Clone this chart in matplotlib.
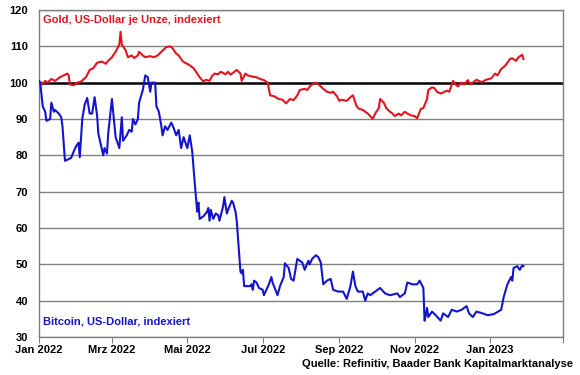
import matplotlib
matplotlib.use("Agg")
import matplotlib.pyplot as plt
import matplotlib.dates as mdates
import pandas as pd

plt.rcParams['font.family'] = ['Liberation Sans', 'DejaVu Sans']

gold_dates = ["2022-01-03","2022-01-04","2022-01-06","2022-01-08","2022-01-11","2022-01-14","2022-01-18","2022-01-21","2022-01-24","2022-01-25","2022-01-26","2022-01-29","2022-02-01","2022-02-04","2022-02-08","2022-02-11","2022-02-14","2022-02-17","2022-02-21","2022-02-24","2022-02-26","2022-03-01","2022-03-04","2022-03-07","2022-03-08","2022-03-09","2022-03-12","2022-03-14","2022-03-17","2022-03-19","2022-03-22","2022-03-23","2022-03-26","2022-03-28","2022-04-01","2022-04-04","2022-04-07","2022-04-10","2022-04-14","2022-04-17","2022-04-19","2022-04-22","2022-04-24","2022-04-27","2022-04-29","2022-05-02","2022-05-04","2022-05-06","2022-05-09","2022-05-11","2022-05-14","2022-05-16","2022-05-19","2022-05-21","2022-05-23","2022-05-26","2022-05-28","2022-06-01","2022-06-03","2022-06-05","2022-06-08","2022-06-10","2022-06-13","2022-06-14","2022-06-17","2022-06-19","2022-06-22","2022-06-26","2022-06-29","2022-07-02","2022-07-05","2022-07-07","2022-07-10","2022-07-14","2022-07-17","2022-07-20","2022-07-23","2022-07-26","2022-07-29","2022-07-31","2022-08-04","2022-08-06","2022-08-09","2022-08-11","2022-08-13","2022-08-16","2022-08-19","2022-08-22","2022-08-25","2022-08-27","2022-08-30","2022-09-01","2022-09-03","2022-09-07","2022-09-10","2022-09-12","2022-09-15","2022-09-17","2022-09-20","2022-09-24","2022-09-26","2022-09-28","2022-09-30","2022-10-03","2022-10-04","2022-10-07","2022-10-09","2022-10-12","2022-10-14","2022-10-16","2022-10-19","2022-10-21","2022-10-24","2022-10-26","2022-10-29","2022-11-01","2022-11-03","2022-11-06","2022-11-08","2022-11-11","2022-11-12","2022-11-15","2022-11-17","2022-11-19","2022-11-22","2022-11-24","2022-11-27","2022-11-29","2022-12-02","2022-12-04","2022-12-06","2022-12-09","2022-12-11","2022-12-14","2022-12-16","2022-12-19","2022-12-21","2022-12-24","2022-12-26","2022-12-28","2022-12-31","2023-01-02","2023-01-05","2023-01-07","2023-01-10","2023-01-12","2023-01-14","2023-01-17","2023-01-19","2023-01-22","2023-01-24","2023-01-27","2023-01-28"]
gold_values = [100,99.5,100.5,100,101,100.5,101.5,102,102.5,102,99.5,99.3,100,100.3,101.5,103.5,104,105.5,105.8,105.2,106,107,108.5,110.5,114,110.5,109,107,107.5,106.8,107.5,108.5,107.5,107,107.3,107,107.5,108.5,109.8,110,109.5,108,107.5,106,105.5,105,104.5,104,102.5,101.5,100.3,100.8,100.5,101.8,102.5,102.3,103,102.3,103,102.2,103,103.5,102.5,100.5,102.5,102,101.7,101.5,101,100.7,100,96.5,96.3,95.5,95.3,94.3,95.5,95.2,96.5,98,98.3,98,99.3,99.7,100,99.3,98.3,97.5,97.2,97.5,96.3,95,95.3,95,96,96.5,93.5,92.8,92.5,91.5,90.8,90,91.5,93,95.5,94.5,93,92,91.5,90.8,91.5,91,92,91.5,91,90.8,90.2,92.8,93,95.5,98,98.7,98.5,97.5,97,97.3,97.8,97.5,100.5,99.5,99,100,99.5,100.7,99.5,100.3,100.8,100.3,100.2,100.7,101,101.2,102.5,102,103.8,104.3,105,106.5,106.7,106,107,107.7,106.5]

btc_dates = ["2022-01-01","2022-01-02","2022-01-04","2022-01-06","2022-01-07","2022-01-10","2022-01-11","2022-01-13","2022-01-14","2022-01-17","2022-01-19","2022-01-20","2022-01-22","2022-01-24","2022-01-27","2022-01-29","2022-01-31","2022-02-02","2022-02-03","2022-02-05","2022-02-07","2022-02-09","2022-02-11","2022-02-13","2022-02-15","2022-02-17","2022-02-18","2022-02-20","2022-02-22","2022-02-23","2022-02-25","2022-02-26","2022-03-01","2022-03-02","2022-03-04","2022-03-06","2022-03-07","2022-03-09","2022-03-10","2022-03-13","2022-03-15","2022-03-17","2022-03-18","2022-03-20","2022-03-22","2022-03-23","2022-03-26","2022-03-28","2022-03-30","2022-04-01","2022-04-02","2022-04-05","2022-04-06","2022-04-08","2022-04-10","2022-04-11","2022-04-13","2022-04-15","2022-04-18","2022-04-20","2022-04-22","2022-04-24","2022-04-26","2022-04-28","2022-05-01","2022-05-03","2022-05-05","2022-05-07","2022-05-09","2022-05-10","2022-05-11","2022-05-14","2022-05-17","2022-05-18","2022-05-19","2022-05-20","2022-05-22","2022-05-24","2022-05-26","2022-05-27","2022-05-30","2022-05-31","2022-06-02","2022-06-03","2022-06-06","2022-06-07","2022-06-09","2022-06-10","2022-06-13","2022-06-14","2022-06-15","2022-06-16","2022-06-21","2022-06-22","2022-06-23","2022-06-24","2022-06-26","2022-06-28","2022-07-01","2022-07-02","2022-07-04","2022-07-06","2022-07-08","2022-07-09","2022-07-13","2022-07-15","2022-07-18","2022-07-19","2022-07-22","2022-07-24","2022-07-26","2022-07-29","2022-08-02","2022-08-04","2022-08-07","2022-08-08","2022-08-10","2022-08-13","2022-08-15","2022-08-17","2022-08-19","2022-08-22","2022-08-25","2022-08-27","2022-08-31","2022-09-04","2022-09-07","2022-09-10","2022-09-12","2022-09-14","2022-09-16","2022-09-20","2022-09-22","2022-09-24","2022-09-26","2022-09-30","2022-10-04","2022-10-08","2022-10-12","2022-10-18","2022-10-20","2022-10-24","2022-10-26","2022-10-30","2022-11-03","2022-11-05","2022-11-08","2022-11-09","2022-11-10","2022-11-11","2022-11-12","2022-11-15","2022-11-18","2022-11-22","2022-11-24","2022-11-28","2022-12-01","2022-12-05","2022-12-09","2022-12-13","2022-12-15","2022-12-18","2022-12-21","2022-12-26","2022-12-30","2023-01-04","2023-01-10","2023-01-12","2023-01-15","2023-01-18","2023-01-19","2023-01-20","2023-01-23","2023-01-25","2023-01-27","2023-01-28"]
btc_values = [100.5,100,93.5,92,89.5,90,94.5,92,92.5,91.5,90.5,88,78.5,78.8,79.3,81,82.5,83.5,79.5,90,94,95.8,91.5,91.5,96,91,86,83,80,82,80.5,86,95.5,92,85,83,82,90.5,84,85.5,87,86.5,90,88.5,90,94.5,98,102,101.5,97.5,100,100,93.5,92,88,85.5,88,87,89,87.5,85.5,87,82,85,82,85.5,81,72.5,64.5,67,62.5,63.2,64.5,65.5,62,65,62.5,64,63.5,62,66,68.5,64,65,67.5,67,64.5,62,48,47.5,48.5,44,44,44.5,43,45.5,45,43.5,43,41.5,43,44.5,46.5,45,41.5,44,46.5,50.3,49,46,45.5,51.5,50.5,48.5,51,50,51.5,52.5,52,50.5,44.5,45.5,46,43,42.5,42.5,40.5,44,48,44,42.5,42.5,40,42,41.5,42.5,43.5,42,41.5,42,41,42,45,44.5,44.5,45.5,43.5,34.5,36,38,35.5,37,36,34.5,36.5,35.5,37.5,37,37.5,38.5,36.5,35.5,37,36.5,36,36.3,37.5,41,44.5,46.5,45.5,49,49.5,48.5,49.7,49.5]

y_ticks = [30, 40, 50, 60, 70, 80, 90, 100, 110, 120]
x_tick_dates = ["2022-01-01","2022-03-01","2022-05-01","2022-07-01","2022-09-01","2022-11-01","2023-01-01","2023-03-01"]
x_tick_labels = ["Jan 2022","Mrz 2022","Mai 2022","Jul 2022","Sep 2022","Nov 2022","Jan 2023",""]

gold_label = "Gold, US-Dollar je Unze, indexiert"
btc_label = "Bitcoin, US-Dollar, indexiert"
source = "Quelle: Refinitiv, Baader Bank Kapitalmarktanalyse"

RED = "#e3141e"
BLUE = "#1414cc"

fig = plt.figure(figsize=(5.8, 3.75), dpi=100)
ax = fig.add_axes([39/580, 1-337/375, (563-39)/580, (337-10)/375])

gd = pd.to_datetime(gold_dates)
bd = pd.to_datetime(btc_dates)
xt = pd.to_datetime(x_tick_dates)

for y in y_ticks:
    if y != 100:
        ax.axhline(y, color="#808080", lw=1.0, zorder=1)
ax.axhline(100, color="black", lw=1.8, zorder=2)

ax.plot(gd, gold_values, color=RED, lw=1.5, zorder=3)
ax.plot(bd, btc_values, color=BLUE, lw=1.5, zorder=3)

ax.set_xlim(xt[0], xt[-1])
ax.set_ylim(30, 120)
ax.set_yticks(y_ticks)
ax.set_xticks(xt)
ax.set_xticklabels(x_tick_labels)

for s in ax.spines.values():
    s.set_color("#808080")
    s.set_linewidth(1.0)

ax.tick_params(axis="y", length=0, pad=8, labelsize=8)
ax.tick_params(axis="x", length=4, color="#808080", pad=2, labelsize=8)
for lab in ax.get_xticklabels() + ax.get_yticklabels():
    lab.set_fontweight("bold")

ax.text(4/524, 1-10/327, gold_label, transform=ax.transAxes, color=RED,
        fontsize=8, fontweight="bold", ha="left", va="center")
ax.text(4/524, 1-311/327, btc_label, transform=ax.transAxes, color=BLUE,
        fontsize=8, fontweight="bold", ha="left", va="center")
fig.text(573/580, 1-364/375, source, fontsize=8, fontweight="bold", ha="right", va="center")

fig.savefig("out.png", dpi=100)
